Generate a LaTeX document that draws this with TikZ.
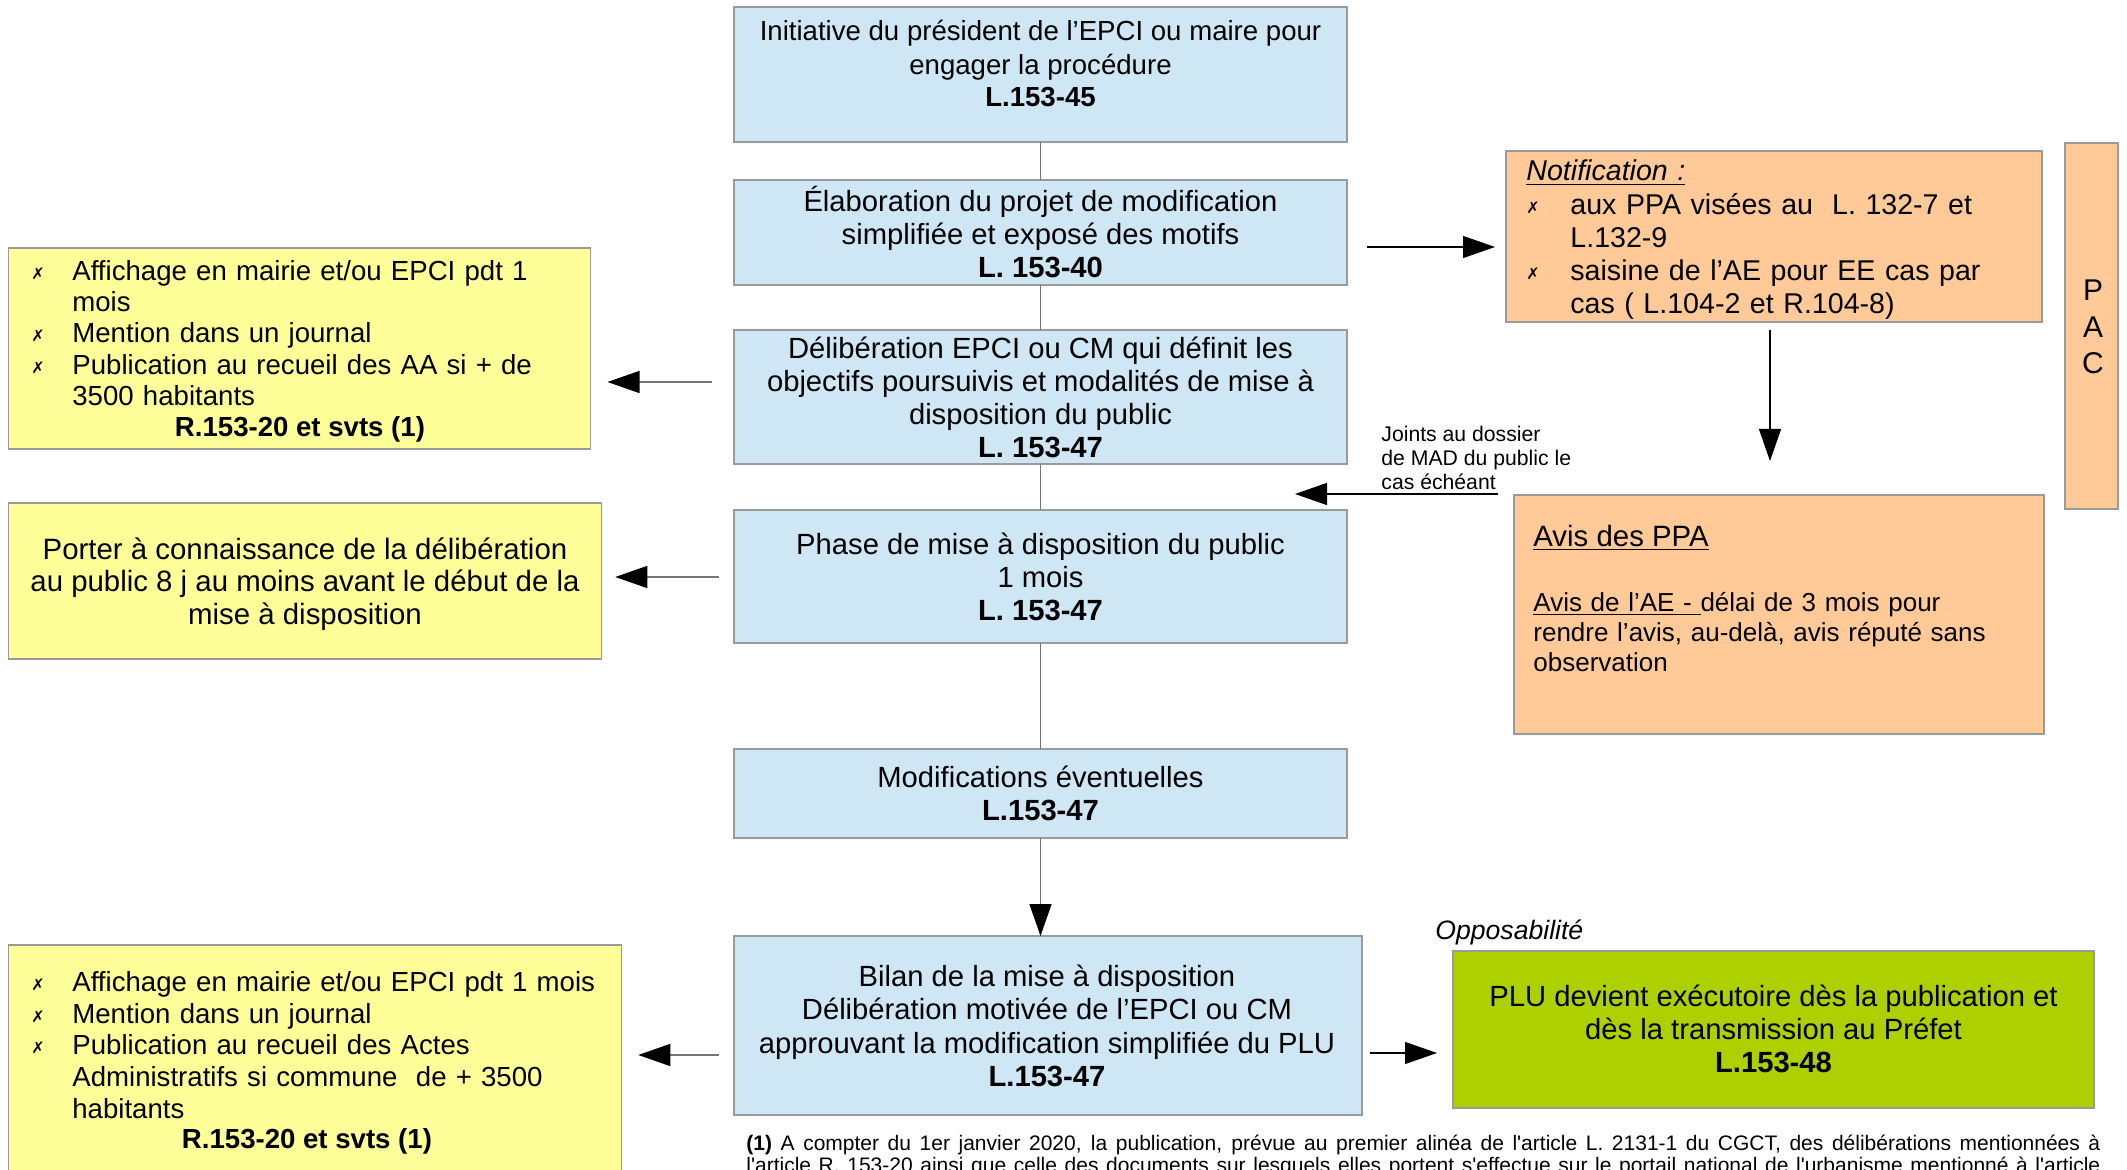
\documentclass[tikz,border=0pt]{standalone}
\usepackage{fontspec}
\setmainfont{Liberation Sans}
\newfontfamily\symfont{DejaVu Sans}
\usetikzlibrary{arrows.meta}
\definecolor{boxblue}{HTML}{CFE7F5}
\definecolor{boxyellow}{HTML}{FFFF99}
\definecolor{boxorange}{HTML}{FFCA98}
\definecolor{boxgreen}{HTML}{AECF00}
\definecolor{bordergray}{HTML}{9A9A9A}
\definecolor{linegray}{HTML}{767676}
\newcommand{\bul}{\makebox[20.5pt][l]{\raisebox{0.5pt}{\symfont\fontsize{8}{8}\selectfont ✗}}}
\newcommand{\ind}{\hspace*{20.5pt}}
\newcommand{\nbul}{\makebox[22pt][l]{\raisebox{0.5pt}{\symfont\fontsize{8}{8}\selectfont ✗}}}
\newcommand{\nind}{\hspace*{22pt}}
\begin{document}
\begin{tikzpicture}[x=0.5pt,y=-0.5pt,
  box/.style={draw=bordergray, line width=0.7pt, inner sep=0pt, outer sep=0pt},
  bluebox/.style={box, fill=boxblue},
  yellowbox/.style={box, fill=boxyellow},
  orangebox/.style={box, fill=boxorange},
  greenbox/.style={box, fill=boxgreen},
  txt/.style={font=\fontsize{13.8}{16.5}\selectfont, align=center, inner sep=0pt},
  ctxt/.style={font=\fontsize{14.6}{16.5}\selectfont, align=center, inner sep=0pt},
  ltxt/.style={font=\fontsize{13.8}{15.7}\selectfont, align=left, inner sep=0pt, anchor=west},
  headtip/.tip={Triangle[length=16pt,width=11pt,color=black]},
  glink/.style={draw=linegray, line width=0.7pt},
  garr/.style={draw=linegray, line width=0.7pt, -headtip},
  barr/.style={draw=black, line width=0.65pt, -headtip}]
\useasboundingbox (0,0) rectangle (2127,1170);
\fill[white] (0,0) rectangle (2127,1170);

% central column
\node[bluebox, minimum width=306.5pt, minimum height=67.5pt] (b1) at (1040.5,74.5) {};
\node[bluebox, minimum width=306.5pt, minimum height=52.5pt] (b2) at (1040.5,232.5) {};
\node[bluebox, minimum width=306.5pt, minimum height=67pt] (b3) at (1040.5,397) {};
\node[bluebox, minimum width=306.5pt, minimum height=66.5pt] (b4) at (1040.5,576.5) {};
\node[bluebox, minimum width=306.5pt, minimum height=44.5pt] (b5) at (1040.5,793.5) {};
\node[bluebox, minimum width=314pt, minimum height=89.5pt] (b6) at (1048,1025.5) {};

\node[txt] (t1) at (1040.5,64) {Initiative du président de l’EPCI ou maire pour\\engager la procédure\\\textbf{L.153-45}};
\node[ctxt] (t2) at (1040.5,232) {Élaboration du projet de modification\\simplifiée et exposé des motifs\\\textbf{L. 153-40}};
\node[ctxt] (t3) at (1040.5,397.5) {Délibération EPCI ou CM qui définit les\\objectifs poursuivis et modalités de mise à\\disposition du public\\\textbf{L. 153-47}};
\node[ctxt] (t4) at (1040.5,577) {Phase de mise à disposition du public\\1 mois\\\textbf{L. 153-47}};
\node[ctxt] (t5) at (1040.5,793) {Modifications éventuelles\\\textbf{L.153-47}};
\node[ctxt, font=\fontsize{14.6}{16.8}\selectfont] (t6) at (1047,1026) {Bilan de la mise à disposition\\Délibération motivée de l’EPCI ou CM\\approuvant la modification simplifiée du PLU\\\textbf{L.153-47}};

% left column
\node[yellowbox, minimum width=291pt, minimum height=100.5pt] (l1) at (299.5,348.5) {};
\node[yellowbox, minimum width=296.5pt, minimum height=78pt] (l2) at (304.75,581) {};
\node[yellowbox, minimum width=306.5pt, minimum height=127.5pt] (l3) at (314.75,1072.5) {};

\node[ltxt, text width=280pt] (l1t) at (31,333) {\bul Affichage en mairie et/ou EPCI pdt 1\\\ind mois\\\bul Mention dans un journal\\\bul Publication au recueil des AA si + de\\\ind 3500 habitants};
\node[txt] (l1r) at (300,429) {\textbf{R.153-20 et svts (1)}};
\node[ctxt, font=\fontsize{14.7}{16.25}\selectfont] (l2t) at (305,584) {Porter à connaissance de la délibération\\au public 8 j au moins avant le début de la\\mise à disposition};
\node[ltxt, text width=290pt, font=\fontsize{13.8}{15.8}\selectfont] (l3t) at (31,1045) {\bul Affichage en mairie et/ou EPCI pdt 1 mois\\\bul Mention dans un journal\\\bul Publication au recueil des Actes\\\ind Administratifs si commune\ \ de + 3500\\\ind habitants};
\node[txt] (l3r) at (307,1141) {\textbf{R.153-20 et svts (1)}};

% right column
\node[orangebox, minimum width=268pt, minimum height=85.5pt] (n) at (1774,236.5) {};
\node[orangebox, minimum width=265pt, minimum height=119.5pt] (a) at (1779,614.5) {};
\node[orangebox, minimum width=26.5pt, minimum height=183pt] (pac) at (2091.5,326) {};
\node[greenbox, minimum width=320.5pt, minimum height=78.5pt] (g) at (1773.5,1029.5) {};

\node[ltxt, text width=255pt, font=\fontsize{14.3}{16.6}\selectfont] (nt) at (1526,240) {\underline{\textit{Notification :}}\\\nbul aux PPA visées au\ \ L. 132-7 et\\\nind L.132-9\\\nbul saisine de l’AE pour EE cas par\\\nind cas ( L.104-2 et R.104-8)};
\node[ltxt, font=\fontsize{14.7}{16.5}\selectfont] (at1) at (1533,538) {\underline{Avis des PPA}};
\node[ltxt, text width=250pt, font=\fontsize{13}{15}\selectfont] (at2) at (1533,632) {\underline{Avis de l’AE -\ }délai de 3 mois pour\\rendre l’avis, au-delà, avis réputé sans\\observation};
\node[txt, font=\fontsize{15}{18.3}\selectfont] (pact) at (2093,327) {P\\A\\C};
\node[ctxt] (gt) at (1773.5,1029) {PLU devient exécutoire dès la publication et\\dès la transmission au Préfet\\\textbf{L.153-48}};
\node[ltxt, font=\fontsize{13.3}{16}\selectfont] (opp) at (1435,932) {\textit{Opposabilité}};
\node[ltxt, font=\fontsize{10.6}{12}\selectfont] (joints) at (1381,458) {Joints au dossier\\de MAD du public le\\cas échéant};

% footnote (cut by the lower edge, as in the reference)
\node[anchor=north west, inner sep=0pt] (foot) at (746,1135) {\parbox[t]{677pt}{\fontsize{10.5}{10.85}\selectfont\parfillskip=0pt\textbf{(1)} A compter du 1er janvier 2020, la publication, prévue au premier alinéa de l\textquotesingle article L. 2131-1 du CGCT, des délibérations mentionnées à\linebreak l\textquotesingle article R. 153-20 ainsi que celle des documents sur lesquels elles portent s\textquotesingle effectue sur le portail national de l\textquotesingle urbanisme mentionné à l\textquotesingle article\par}};

% connectors in the central column
\draw[glink] (b1.south) -- (b2.north);
\draw[glink] (b2.south) -- (b3.north);
\draw[glink] (b3.south) -- (b4.north);
\draw[glink] (b4.south) -- (b5.north);
\draw[garr] (b5.south) -- (b5.south |- b6.north);

% left arrows
\coordinate (y1) at (0,382);
\coordinate (y2) at (0,577);
\coordinate (y3) at (0,1055);
\draw[garr, shorten <=11pt, shorten >=8.5pt] (b3.west |- y1) -- (l1.east |- y1);
\draw[garr, shorten <=7.5pt, shorten >=7pt] (b4.west |- y2) -- (l2.east |- y2);
\draw[garr, shorten <=7.5pt, shorten >=8.5pt] (b6.west |- y3) -- (l3.east |- y3);

% right arrows
\coordinate (y4) at (0,247);
\coordinate (x5) at (1770,0);
\coordinate (y7) at (0,1053);
\coordinate (gap) at (1295,494);
\draw[barr, shorten <=10pt, shorten >=5.5pt] (b2.east |- y4) -- (n.west |- y4);
\draw[barr, shorten <=4pt, shorten >=17pt] (n.south -| x5) -- (a.north -| x5);
\draw[barr, shorten <=8pt] (a.west |- gap) -- (gap);
\draw[barr, shorten <=4pt, shorten >=8pt] (b6.east |- y7) -- (g.west |- y7);
\end{tikzpicture}
\end{document}
